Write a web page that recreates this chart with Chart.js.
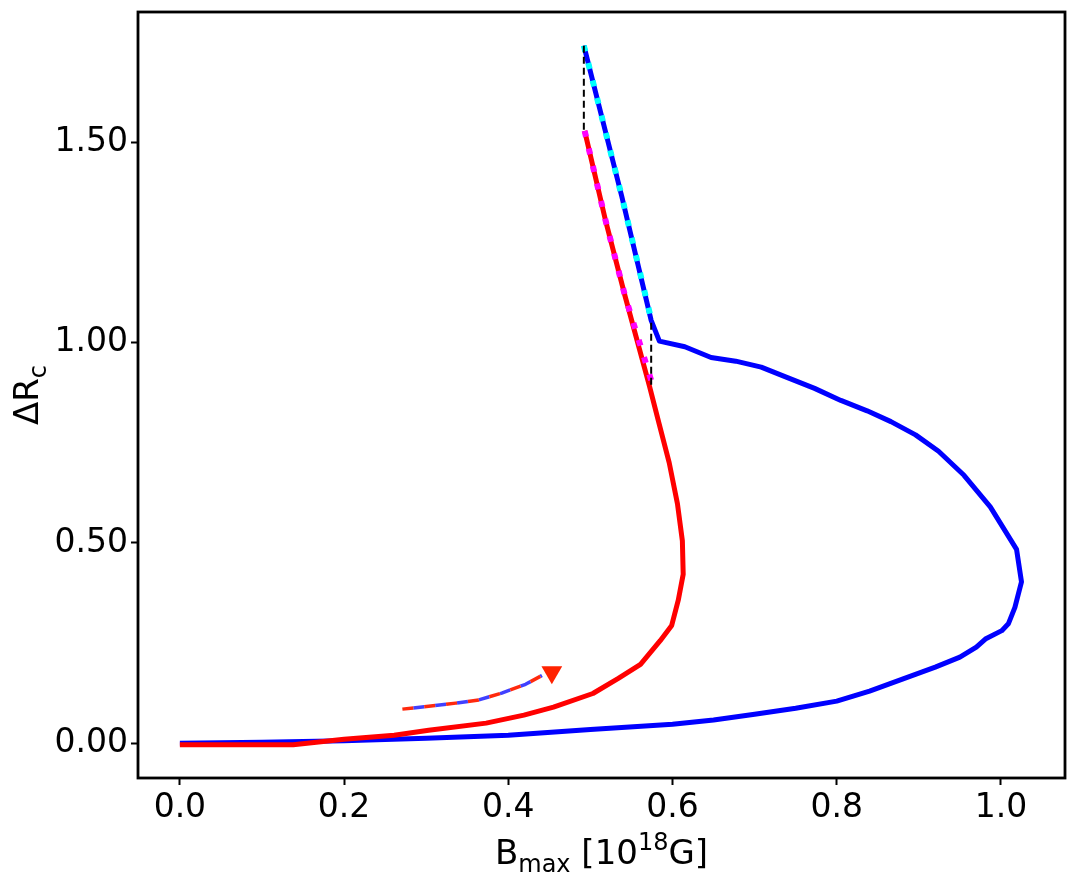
<!DOCTYPE html>
<html>
<head>
<meta charset="utf-8">
<script src="https://cdn.jsdelivr.net/npm/chart.js@4/dist/chart.umd.min.js"></script>
<style>
  html, body { margin: 0; padding: 0; background: #fff; }
  #wrap { width: 1077px; height: 880px; }
</style>
</head>
<body>
<div id="wrap"><canvas id="chart" width="1077" height="880"></canvas></div>
<script>
// blue branch (B_max, delta R_c)
const blueB = [0, 0.1, 0.2, 0.3, 0.4, 0.5, 0.6, 0.65, 0.7, 0.75, 0.8, 0.84, 0.88, 0.92, 0.95, 0.97, 0.981,
    1.001, 1.009, 1.017, 1.025, 1.019, 0.987, 0.955, 0.924, 0.896, 0.866, 0.837, 0.805, 0.773, 0.740,
    0.708, 0.677, 0.647, 0.615, 0.584, 0.574, 0.538, 0.492];
const blueR = [0, 0.002, 0.006, 0.012, 0.02, 0.034, 0.047, 0.058, 0.072, 0.087, 0.105, 0.13, 0.16, 0.19, 0.215, 0.24, 0.26,
    0.281, 0.298, 0.339, 0.403, 0.484, 0.590, 0.669, 0.729, 0.770, 0.803, 0.830, 0.856, 0.886, 0.913,
    0.939, 0.954, 0.963, 0.990, 1.004, 1.056, 1.367, 1.742];

// red branch
const redB = [0, 0.138, 0.2, 0.261, 0.303, 0.373, 0.419, 0.455, 0.503, 0.534, 0.561, 0.585, 0.599, 0.607,
    0.613, 0.612, 0.606, 0.596, 0.583, 0.572, 0.542, 0.518, 0.493];
const redR = [-0.004, -0.004, 0.01, 0.02, 0.032, 0.05, 0.07, 0.09, 0.124, 0.162, 0.197, 0.256, 0.294, 0.357,
    0.422, 0.505, 0.598, 0.700, 0.803, 0.891, 1.118, 1.309, 1.529];

// dotted overlays
const cyanB = [0.492, 0.538, 0.575];
const cyanR = [1.742, 1.367, 1.050];
const magentaB = [0.493, 0.518, 0.542, 0.576];
const magentaR = [1.529, 1.309, 1.118, 0.893];

// black dashed jumps
const jump1B = [0.492, 0.492];
const jump1R = [1.742, 1.529];
const jump2B = [0.574, 0.574];
const jump2R = [1.050, 0.890];

// arrow
const arrowB = [0.271, 0.303, 0.336, 0.364, 0.392, 0.421, 0.441];
const arrowR = [0.085, 0.092, 0.100, 0.108, 0.125, 0.147, 0.169];
const arrowHeadB = [0.453];
const arrowHeadR = [0.177];

const xTicks = [0, 0.2, 0.4, 0.6, 0.8, 1.0];
const yTicks = [0, 0.5, 1.0, 1.5];

const toPoints = function (xs, ys) {
    return xs.map((x, i) => ({ x: x, y: ys[i] }));
};

// lower order is drawn on top
const line = function (xs, ys, color, width, order, dash, offset) {
    return {
        data: toPoints(xs, ys),
        showLine: true,
        order: order,
        borderColor: color,
        borderWidth: width,
        borderDash: dash || [],
        borderDashOffset: offset || 0,
        borderCapStyle: 'butt',
        borderJoinStyle: 'round',
        pointRadius: 0,
        tension: 0
    };
};

const FONT = "'DejaVu Sans', sans-serif";

// frame + axis titles with sub/superscripts
const framePlugin = {
    id: 'frame',
    afterDraw(chart) {
        const ctx = chart.ctx;
        const a = chart.chartArea;
        ctx.save();
        ctx.strokeStyle = '#000';
        ctx.lineWidth = 2.8;
        ctx.strokeRect(a.left, a.top, a.right - a.left, a.bottom - a.top);

        ctx.fillStyle = '#000';
        ctx.textBaseline = 'alphabetic';
        const big = '34px ' + FONT, small = '24px ' + FONT;
        const parts = [['B', big, 0], ['max', small, 8], [' [10', big, 0], ['18', small, -14], ['G]', big, 0]];
        let w = 0;
        parts.forEach(p => { ctx.font = p[1]; w += ctx.measureText(p[0]).width; });
        let x = (a.left + a.right) / 2 - w / 2;
        const base = 864;
        parts.forEach(p => {
            ctx.font = p[1];
            ctx.fillText(p[0], x, base + p[2]);
            x += ctx.measureText(p[0]).width;
        });
        ctx.translate(38, 395);
        ctx.rotate(-Math.PI / 2);
        const yparts = [['ΔR', big, 0], ['c', small, 8]];
        w = 0;
        yparts.forEach(p => { ctx.font = p[1]; w += ctx.measureText(p[0]).width; });
        x = -w / 2;
        yparts.forEach(p => {
            ctx.font = p[1];
            ctx.fillText(p[0], x, p[2]);
            x += ctx.measureText(p[0]).width;
        });
        ctx.restore();
    }
};

new Chart('chart', {
    type: 'scatter',
    data: {
        datasets: [
            line(blueB, blueR, '#0000ff', 5, 9),
            line(redB, redR, '#ff0000', 5, 8),
            line(cyanB, cyanR, '#00ffff', 6, 5, [6, 12], 0),
            line(magentaB, magentaR, '#ff00ff', 6, 5, [6, 12], 0),
            line(arrowB, arrowR, 'rgba(255,30,0,0.95)', 3.5, 4, [11, 11], 0),
            line(arrowB, arrowR, 'rgba(30,30,255,0.85)', 3.5, 4, [11, 11], 11),
            line(jump1B, jump1R, '#000000', 2, 2, [7, 4]),
            line(jump2B, jump2R, '#000000', 2, 2, [7, 4]),
            {
                data: toPoints(arrowHeadB, arrowHeadR),
                showLine: false,
                order: 1,
                pointStyle: 'triangle',
                rotation: 180,
                pointRadius: 12,
                pointBackgroundColor: '#ff2200',
                pointBorderWidth: 0,
                pointBorderColor: '#ff2200'
            }
        ]
    },
    options: {
        responsive: false,
        animation: false,
        layout: { padding: { top: 9, right: 6, left: 0, bottom: 0 } },
        plugins: { legend: { display: false }, tooltip: { enabled: false } },
        scales: {
            x: {
                type: 'linear',
                min: -0.051,
                max: 1.078,
                border: { display: false },
                grid: { drawOnChartArea: false, drawTicks: true, tickLength: 7, tickWidth: 2, tickColor: '#000' },
                ticks: {
                    color: '#000',
                    font: { family: FONT, size: 33 },
                    padding: 4,
                    maxRotation: 0,
                    callback: v => v.toFixed(1)
                },
                afterBuildTicks: scale => { scale.ticks = xTicks.map(v => ({ value: v })); },
                afterFit: scale => {
                    scale.height = 102;
                    scale.paddingLeft = 0;
                    scale.paddingRight = 0;
                }
            },
            y: {
                type: 'linear',
                min: -0.087,
                max: 1.826,
                border: { display: false },
                grid: { drawOnChartArea: false, drawTicks: true, tickLength: 7, tickWidth: 2, tickColor: '#000' },
                ticks: {
                    color: '#000',
                    font: { family: FONT, size: 33 },
                    padding: 3,
                    callback: v => v.toFixed(2)
                },
                afterBuildTicks: scale => { scale.ticks = yTicks.map(v => ({ value: v })); },
                afterFit: scale => {
                    scale.width = 138;
                    scale.paddingTop = 0;
                    scale.paddingBottom = 0;
                }
            }
        }
    },
    plugins: [framePlugin]
});
</script>
</body>
</html>
